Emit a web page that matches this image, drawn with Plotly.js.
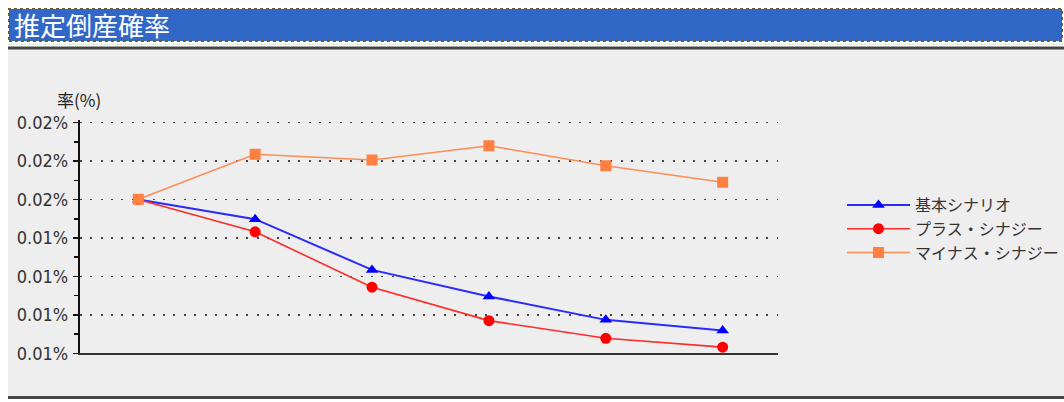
<!DOCTYPE html>
<html>
<head>
<meta charset="utf-8">
<script src="https://cdn.plot.ly/plotly-3.0.1.min.js"></script>
<style>
  html, body { margin: 0; padding: 0; background: #ffffff; }
  #chart { width: 1064px; height: 402px; }
</style>
</head>
<body>
<div id="chart"></div>
<script>
// ---- data ----
const periods = ['1', '2', '3', '4', '5', '6'];
const seriesNames = ['基本シナリオ', 'プラス・シナジー', 'マイナス・シナジー'];
const baseScenario = [0.01500, 0.01449, 0.01317, 0.01248, 0.01187, 0.01159];
const plusSynergy  = [0.01500, 0.01416, 0.01272, 0.01185, 0.01139, 0.01116];
const minusSynergy = [0.01501, 0.01618, 0.01603, 0.01640, 0.01588, 0.01545];
const tickValues = [0.011, 0.012, 0.013, 0.014, 0.015, 0.016, 0.017];
const tickLabels = ['0.01%', '0.01%', '0.01%', '0.01%', '0.02%', '0.02%', '0.02%'];
const minorTickValues = [0.0115, 0.0125, 0.0135, 0.0145, 0.0155, 0.0165];
const chartTitle = '推定倒産確率';
const yAxisTitle = '率(%)';

const W = 1064, H = 402;
const px = v => v / W;           // x pixel -> paper
const py = v => 1 - v / H;       // y pixel -> paper

const jp = '"Noto Sans CJK JP", "Noto Sans", sans-serif';
const tickFontFamily = '"Liberation Sans Narrow", "DejaVu Sans Condensed", "Liberation Sans", sans-serif';

const traces = [
  {
    x: periods, y: baseScenario, name: seriesNames[0], type: 'scatter', mode: 'lines+markers',
    line: { color: '#2a2aff', width: 2 },
    marker: { symbol: 'triangle-up', size: 11, color: '#0000ff' },
    xaxis: 'x', yaxis: 'y'
  },
  {
    x: periods, y: plusSynergy, name: seriesNames[1], type: 'scatter', mode: 'lines+markers',
    line: { color: '#ff2a2a', width: 1.6 },
    marker: { symbol: 'circle', size: 11, color: '#ff0000' },
    xaxis: 'x', yaxis: 'y'
  },
  {
    x: periods, y: minusSynergy, name: seriesNames[2], type: 'scatter', mode: 'lines+markers',
    line: { color: '#ff8c55', width: 1.6 },
    marker: { symbol: 'square', size: 11, color: '#ff8040' },
    xaxis: 'x', yaxis: 'y'
  }
];

const layout = {
  width: W, height: H,
  margin: { l: 0, r: 0, t: 0, b: 0 },
  paper_bgcolor: '#ffffff',
  plot_bgcolor: 'rgba(0,0,0,0)',
  showlegend: true,
  xaxis: {
    type: 'category',
    domain: [px(79.85), px(777.6)],
    range: [-0.5, 5.47],
    showline: true, linecolor: '#333333', linewidth: 2,
    showgrid: false, zeroline: false,
    showticklabels: false, ticks: ''
  },
  yaxis: {
    domain: [py(353.3), py(119.6)],
    range: [0.011, 0.01708],
    tickmode: 'array', tickvals: tickValues, ticktext: tickLabels,
    showline: true, linecolor: '#111111', linewidth: 2,
    ticks: 'outside', ticklen: 5, tickwidth: 1.5, tickcolor: '#111111',
    minor: { tickmode: 'array', tickvals: minorTickValues, ticks: 'outside',
             ticklen: 4, tickwidth: 1.5, tickcolor: '#111111', showgrid: false },
    showgrid: true, gridcolor: '#444444', gridwidth: 1.5, griddash: '2px,8.4px',
    zeroline: false,
    tickfont: { family: tickFontFamily, size: 18, color: '#333333' },
    ticklabelstandoff: 1
  },
  yaxis2: {
    overlaying: 'y', anchor: 'x',
    domain: [py(353.3), py(119.6)],
    range: [0.011, 0.01708],
    tickmode: 'array', tickvals: minorTickValues, ticktext: minorTickValues.map(() => ''),
    showline: false, showgrid: false, zeroline: false,
    ticks: 'inside', ticklen: 3, tickwidth: 1.5, tickcolor: '#111111',
    side: 'left'
  },
  legend: {
    x: px(842), y: py(188), xanchor: 'left', yanchor: 'top',
    bgcolor: 'rgba(0,0,0,0)', borderwidth: 0,
    itemwidth: 63,
    font: { family: jp, size: 16, color: '#333333' },
    tracegroupgap: 0
  },
  shapes: [
    { type: 'rect', xref: 'paper', yref: 'paper', layer: 'below',
      x0: px(8), x1: px(1064), y0: py(396), y1: py(49),
      fillcolor: '#eeeeee', line: { width: 0 } },
    { type: 'line', xref: 'paper', yref: 'paper', layer: 'below',
      x0: px(8), x1: px(1064), y0: py(48), y1: py(48),
      line: { color: '#444444', width: 3 } },
    { type: 'line', xref: 'paper', yref: 'paper', layer: 'below',
      x0: px(8), x1: px(1064), y0: py(44.5), y1: py(44.5),
      line: { color: '#dfeedd', width: 1 } },
    { type: 'line', xref: 'paper', yref: 'paper', layer: 'below',
      x0: px(8), x1: px(1064), y0: py(397.5), y1: py(397.5),
      line: { color: '#444444', width: 3 } },
    { type: 'rect', xref: 'paper', yref: 'paper', layer: 'below',
      x0: px(9), x1: px(1062), y0: py(41), y1: py(9),
      fillcolor: '#3168c8', line: { color: '#6b5a3e', width: 2, dash: 'dot' } }
  ],
  annotations: [
    { text: chartTitle, xref: 'paper', yref: 'paper', x: px(12), y: py(25),
      xanchor: 'left', yanchor: 'middle', showarrow: false,
      font: { family: jp, size: 26, color: '#ffffff' } },
    { text: yAxisTitle, xref: 'paper', yref: 'paper', x: px(79), y: py(100),
      xanchor: 'center', yanchor: 'middle', showarrow: false,
      font: { family: jp, size: 17, color: '#222222' } }
  ]
};

Plotly.newPlot('chart', traces, layout, { displayModeBar: false, staticPlot: true });
</script>
</body>
</html>
